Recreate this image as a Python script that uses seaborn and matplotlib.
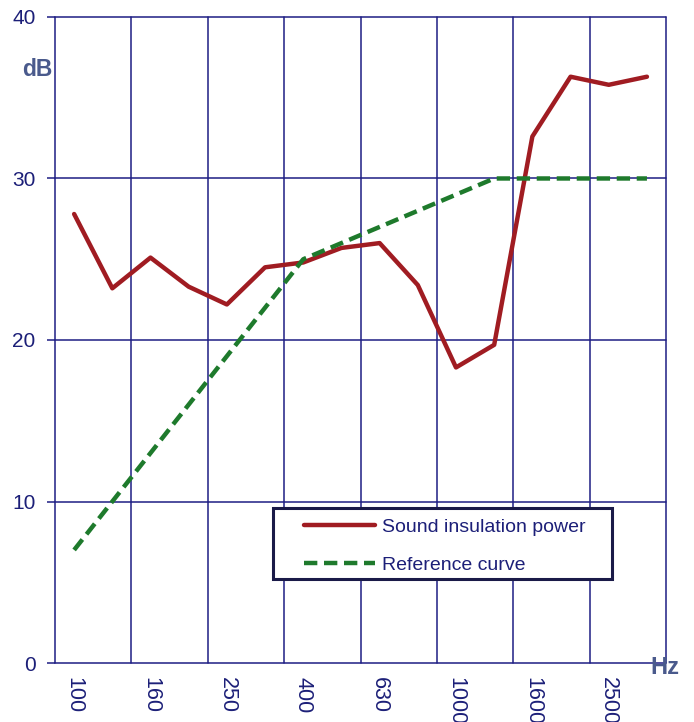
import matplotlib
matplotlib.use("Agg")
import matplotlib.pyplot as plt
from matplotlib.patches import Rectangle
import seaborn as sns
import pandas as pd
import numpy as np

freqs = ["100", "125", "160", "200", "250", "315", "400", "500", "630",
         "800", "1000", "1250", "1600", "2000", "2500", "3150"]
insulation = [27.8, 23.2, 25.1, 23.3, 22.2, 24.5, 24.8, 25.7, 26.0,
              23.4, 18.3, 19.7, 32.6, 36.3, 35.8, 36.3]
reference = [7, 10, 13, 16, 19, 22, 25, 26, 27, 28, 29, 30, 30, 30, 30, 30]
tick_labels = ["100", "160", "250", "400", "630", "1000", "1600", "2500"]
y_ticks = [0, 10, 20, 30, 40]

sns.set_theme(style="white")
plt.rcParams['font.family'] = ['Liberation Sans', 'DejaVu Sans']

navy = "#1c1f78"
grid_c = "#1e1e84"
red = "#a01c22"
green = "#1e7a2c"
label_c = "#4a5a8c"

df = pd.DataFrame({
    "pos": list(range(len(freqs))) * 2,
    "value": insulation + reference,
    "series": ["Sound insulation power"] * len(freqs) + ["Reference curve"] * len(freqs),
})

fig = plt.figure(figsize=(6.94, 7.22), dpi=100)
ax = fig.add_axes([0.0793, 0.0817, 0.8804, 0.8948])

sns.lineplot(data=df, x="pos", y="value", hue="series", style="series",
             palette={"Sound insulation power": red, "Reference curve": green},
             dashes={"Sound insulation power": "", "Reference curve": (3.0, 1.5)},
             linewidth=3.2, ax=ax, legend=True, zorder=5)

ax.set_xlim(-0.5, len(freqs) - 0.5)
ax.set_ylim(0, 40)

# grid
for xv in np.arange(-0.5, len(freqs), 2):
    ax.axvline(xv, color=grid_c, lw=1.1, zorder=1, clip_on=False)
for yv in y_ticks:
    ax.axhline(yv, color=grid_c, lw=1.1, zorder=1, clip_on=False)

for s in ax.spines.values():
    s.set_visible(False)

ax.set_yticks(y_ticks)
ax.set_yticklabels([str(v) for v in y_ticks], fontsize=15, color=navy)
ax.tick_params(axis="y", length=6, width=1.1, color=grid_c, pad=8, left=True)
ax.set_xticks(range(0, len(freqs), 2))
ax.set_xticklabels(tick_labels, rotation=270, fontsize=15.5, color=navy, va="top", ha="center")
ax.tick_params(axis="x", length=0, pad=10)
ax.set_xlabel("")
ax.set_ylabel("")

fig.text(22 / 694, 1 - 70 / 722, "dB", fontsize=16.5, fontweight="bold", color=label_c,
         ha="left", va="center")
fig.text(650 / 694, 1 - 667 / 722, "Hz", fontsize=17, fontweight="bold", color=label_c,
         ha="left", va="center")

# legend frame
x0 = (273 - 55) / 611
x1 = (612 - 55) / 611
y0 = (663 - 579) / 646
y1 = (663 - 508) / 646
frame = Rectangle((x0, y0), x1 - x0, y1 - y0, transform=ax.transAxes,
                  facecolor="white", edgecolor="#1a1a48", linewidth=2.2, zorder=9)
ax.add_patch(frame)

handles, labels = ax.get_legend_handles_labels()
leg = ax.legend(handles, labels, loc="upper left",
                bbox_to_anchor=((299 - 55) / 611 - 0.005, y1 - 0.004),
                fontsize=14, frameon=False, handlelength=3.65,
                handletextpad=0.36, borderpad=0.4, labelspacing=1.05,
                borderaxespad=0)
leg.set_zorder(10)
for t in leg.get_texts():
    t.set_color(navy)

fig.savefig("out.png", dpi=100, facecolor="white")
